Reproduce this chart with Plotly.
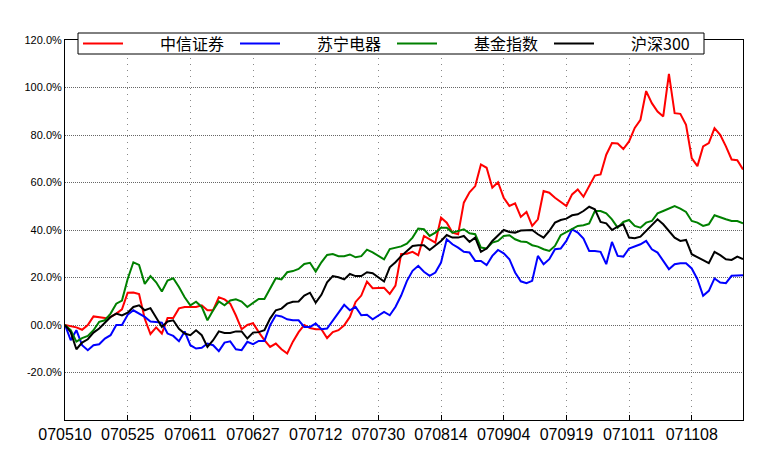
import plotly.graph_objects as go

tick_labels = ["070510", "070525", "070611", "070627", "070712", "070730",
               "070814", "070904", "070919", "071011", "071108"]
tick_step = 11
n_points = 120

series_names = ["中信证券", "苏宁电器", "基金指数", "沪深300"]
series_colors = ["#FF0000", "#0000FF", "#008000", "#000000"]

citic = [0, -0.5, -1, -2, 0, 3.6, 3.4, 2.9, 3.4, 4.8, 6.6, 13.6, 13.7, 13, 2.6, -3.8, -1, -3.6, 2.9, 2.9,
         7, 7.6, 7.6, 7.6, 8.3, 6.2, 6.2, 11.7, 10.8, 9, 4, -1.8, 0, 0.8, -3, -6.4, -9.2, -7.8, -10.2, -12,
         -7, -3, 0, -1.3, -1.8, -1.8, -5.5, -3, -2.2, -0.1, 3.4, 9.7, 12.4, 18.3, 15.5, 15.7, 15.7, 13.1, 16.6, 29.9,
         30, 30.8, 29.4, 37.5, 36.1, 34.7, 45.2, 43.1, 38.9, 38.2, 51.5, 55.9, 58.5, 67.6, 66.2, 57.8, 60.1, 53.6, 50.1, 51.2,
         45.5, 47.6, 41.7, 44.5, 56.4, 55.7, 53.6, 51.7, 50.1, 55, 57.1, 54, 58.5, 62.9, 63.4, 71.7, 76.6, 76.4, 74.1, 77.3,
         83, 86.4, 98.5, 93.4, 89.9, 87.8, 105.7, 89.2, 88.9, 84.3, 70.3, 66.9, 75.2, 76.6, 82.9, 80.1, 75.2, 69.7, 69.4, 65.5]

suning = [0, -6.4, -2.2, -8.5, -10.6, -8.5, -8.1, -5.7, -4.3, 0, 0, 4.3, 6.2, 4.8, 3.4, 1.5, 1.3, 1, -3.6, -4.6,
          -6.8, -2.7, -8.5, -9.9, -9.6, -7.8, -8.5, -11, -7.4, -6.9, -10.2, -10.6, -7.1, -8.1, -6.7, -6.7, -0.1, 4.1, 3.6, 2.4,
          2, 2, -0.8, -0.8, 0.6, -1.8, -1.5, 2, 5.5, 8.5, 6.2, 7.6, 4.1, 4.3, 2.4, 3.8, 5.5, 4.1, 7.6, 12.4,
          18.5, 22.8, 24.9, 22.4, 20.7, 22.1, 26.3, 36.1, 34, 32.6, 30.8, 30.5, 27, 27, 25.2, 29.1, 31.6, 30.2, 27.7, 22.1,
          18.4, 17.6, 18.6, 29.1, 25.6, 27.7, 31.9, 32.2, 35.4, 40.3, 38.9, 36.4, 31.2, 31.2, 30.8, 25.6, 35, 29.1, 28.8, 32.2,
          33, 34, 35.4, 31.9, 30.5, 27, 23.5, 25.6, 26, 26, 23.8, 19.3, 12.3, 14.4, 19.6, 17.9, 17.6, 20.7, 21, 21]

fund = [0, -2.2, -7, -5.5, -4.6, -2.2, 1.3, 2, 4.8, 9, 10.3, 19.4, 26.4, 25.3, 17.3, 20.6, 18, 14.1, 18.7, 19.7,
        16, 11.7, 8.3, 9.8, 7.6, 2, 6.2, 9.9, 8.3, 10.3, 10.8, 9.9, 7.6, 9.4, 11, 11, 15.2, 19.7, 19.2, 22.2,
        22.7, 23.6, 25.7, 26.2, 22.5, 26.4, 29.5, 29.9, 29, 29, 29.7, 28.5, 29, 31.7, 30.6, 29, 27.6, 32, 32.4, 33.1,
        34.2, 36.8, 40.6, 40.3, 37.5, 38.9, 41, 41, 38.9, 39.6, 40.3, 38.6, 38.2, 32.6, 32.2, 34.7, 35.4, 37.5, 37.8, 36.1,
        35.2, 35, 33.6, 33, 31.9, 31.2, 33.3, 37.8, 39.2, 40.3, 41.7, 42, 42.8, 48, 48, 47, 44.5, 41, 43.4, 44.2,
        41.7, 41, 43.1, 43.8, 47, 48, 49, 50.1, 49, 47.6, 43.8, 43.1, 41.7, 42.4, 46.2, 45.2, 44.5, 43.8, 43.8, 42.8]

hs300 = [0, -3, -10.2, -7.4, -6, -3.2, -1.5, 1, 3.4, 4.8, 4, 5.2, 7.6, 8.3, 6.2, 7.1, 3.4, -0.8, 1.5, 2,
         -1.6, -3.6, -4.3, -2.2, -4.3, -9.2, -6.4, -2.7, -3.4, -3.4, -2.7, -2.7, -5.7, -3.2, -3, -2.2, 2.7, 6.2, 6.9, 9,
         9.8, 9.9, 12.4, 13.6, 9.4, 12.7, 18, 20.6, 20.1, 19.2, 21.5, 20.6, 20.6, 22.2, 21.8, 20.1, 18.3, 24.3, 26.4, 29,
         31, 33.3, 33.6, 33.6, 31.6, 33.6, 35.4, 37.9, 36.8, 36.8, 37.5, 35, 36.8, 30.8, 32.2, 35.4, 37.8, 40, 39.2, 38.9,
         39.8, 40, 40, 38.2, 36.8, 39.6, 43.1, 44.2, 44.8, 46.2, 46.6, 48, 49.8, 48.7, 43.4, 42.8, 40, 41.4, 42.4, 36.8,
         36.5, 37.2, 39.6, 41.7, 44.5, 42.4, 39.6, 36.8, 35.4, 35.8, 29.8, 28.4, 27.3, 26, 30.8, 29.4, 27.7, 27.4, 28.8, 27.7]

y_tick_vals = [-40, -20, 0, 20, 40, 60, 80, 100, 120]
y_tick_text = ["", "-20.0%", "00.0%", "20.0%", "40.0%", "60.0%", "80.0%", "100.0%", "120.0%"]

x_index = list(range(n_points))
x_tick_vals = [i * tick_step for i in range(len(tick_labels))]

# page body has an 8px margin; figure is sized to fill the rest of the 770x460 window
W, H, OFF = 762, 452, 8
ML, MR, MT, MB = 57, 27, 32, 40

fig = go.Figure()
for name, color, vals in zip(series_names, series_colors, [citic, suning, fund, hs300]):
    fig.add_trace(go.Scatter(
        x=x_index, y=vals, mode="lines", name="\u3000\u3000" + name,
        line=dict(color=color, width=2),
    ))

# legend frame (drawn as a box behind the transparent legend)
box_l, box_r, box_t, box_b = 78 - OFF, 704 - OFF, 33 - OFF, 54 - OFF
fig.add_shape(type="rect", xref="paper", yref="paper", layer="above",
              x0=(box_l - ML) / (W - ML - MR), x1=(box_r - ML) / (W - ML - MR),
              y0=(H - MB - box_b) / (H - MT - MB), y1=(H - MB - box_t) / (H - MT - MB),
              line=dict(color="black", width=1), fillcolor="white")

fig.update_layout(
    width=W, height=H,
    margin=dict(l=ML, r=MR, t=MT, b=MB, autoexpand=False),
    paper_bgcolor="white", plot_bgcolor="white",
    showlegend=True,
    legend=dict(
        orientation="h", xref="container", yref="container",
        x=(78 - OFF) / W, y=1 - (43.5 - OFF) / H, xanchor="left", yanchor="middle",
        bgcolor="rgba(0,0,0,0)", borderwidth=0,
        font=dict(family="Noto Sans CJK SC, Liberation Sans", size=16, color="black"),
        entrywidth=102, entrywidthmode="pixels", itemwidth=40,
        tracegroupgap=0,
    ),
    xaxis=dict(
        range=[0, n_points - 1], tickmode="array", tickvals=x_tick_vals, ticktext=tick_labels,
        showgrid=True, gridcolor="#888888", griddash="1px,5px", gridwidth=1,
        showline=True, linecolor="black", linewidth=1, mirror="ticks",
        ticks="inside", ticklen=5, tickcolor="black",
        tickfont=dict(family="Liberation Sans, Arial", size=16, color="black"),
        zeroline=False,
    ),
    yaxis=dict(
        range=[-40, 120], tickmode="array", tickvals=y_tick_vals, ticktext=y_tick_text,
        showgrid=True, gridcolor="#666666", griddash="1px,1px", gridwidth=1,
        showline=True, linecolor="black", linewidth=1, mirror=True,
        ticks="", tickfont=dict(family="Liberation Sans, Arial", size=11, color="black"),
        zeroline=False,
    ),
)

fig.write_html("out.html")
